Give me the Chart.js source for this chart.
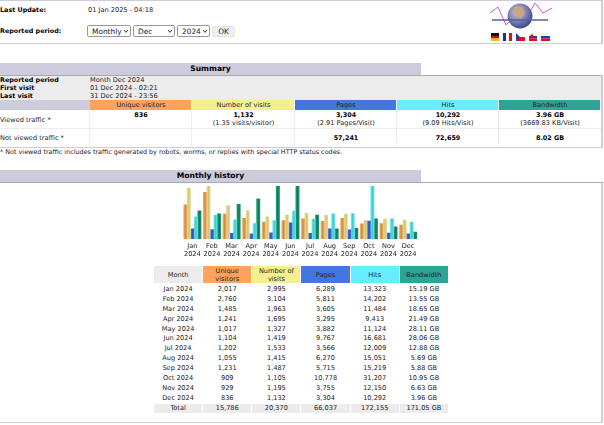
<!DOCTYPE html>
<html>
<head>
<meta charset="utf-8">
<script src="https://cdn.jsdelivr.net/npm/chart.js@4"></script>
<style>
html, body { margin: 0; padding: 0; background: #fff; width: 604px; height: 425px; overflow: hidden; }
body { font-family: "DejaVu Sans", Verdana, sans-serif; font-size: 6.6px; color: #222; position: relative; text-rendering: geometricPrecision; }
.abs { position: absolute; }
.line { position: absolute; background: #ccccdd; }
.band { position: absolute; background: #ccccdd; color: #000; font-weight: bold; font-size: 7.6px; text-align: center; }
.lbl { position: absolute; white-space: nowrap; line-height: 9px; }
.b { font-weight: bold; color: #000; font-size: 6.4px; }
.note { font-size: 6.43px; }
.cell { position: absolute; text-align: center; line-height: 9px; white-space: nowrap; }
select, button.ok { position: absolute; font-family: "DejaVu Sans", sans-serif; font-size: 7.4px; text-rendering: geometricPrecision; height: 12px; padding: 0 0 0 4px; margin: 0; box-sizing: border-box; background: #fff; border: 1px solid #999; border-radius: 2px; color: #222; }
select { appearance: none; -webkit-appearance: none; }
.arrow { position: absolute; width: 4px; height: 3px; }
button.ok { background: #efefef; border: 1px solid #e4e4e4; padding: 0; }
#hist { position: absolute; left: 181px; top: 183px; width: 238.4px; height: 78px; }
#months { position: absolute; left: 153px; top: 266px; width: 296px; border-collapse: separate; border-spacing: 1.2px 0; table-layout: fixed; font-size: 6.6px; }
#months td, #months th { text-align: center; padding: 0; height: 9.88px; line-height: 9.88px; font-weight: normal; white-space: nowrap; }
#months th { height: 17px; line-height: 8px; color: #222; border-bottom: 2px solid #fff; }
#months tr.total td { background: #ececec; }
</style>
</head>
<body>
<script>
const months = ["Jan", "Feb", "Mar", "Apr", "May", "Jun", "Jul", "Aug", "Sep", "Oct", "Nov", "Dec"];
const year = "2024";
const visitors = [2017, 2760, 1485, 1241, 1017, 1104, 1202, 1055, 1231, 909, 929, 836];
const visits = [2995, 3104, 1963, 1695, 1327, 1419, 1533, 1415, 1487, 1105, 1195, 1132];
const pages = [6289, 5811, 3605, 3295, 3882, 9767, 3566, 6270, 5715, 10778, 3755, 3304];
const hits = [13323, 14202, 11484, 9413, 11124, 16681, 12009, 15051, 15219, 31207, 12150, 10292];
const bandwidth = [15.19, 13.55, 18.65, 21.49, 28.11, 28.06, 12.88, 5.69, 5.88, 10.95, 6.63, 3.96];
const totals = ["Total", "15,786", "20,370", "66,037", "172,155", "171.05 GB"];
const headers = ["Month", "Unique<br>visitors", "Number of<br>visits", "Pages", "Hits", "Bandwidth"];
const headerColors = ["#ececec", "#ffa25c", "#f4f090", "#4477dd", "#66eeff", "#2ea495"];
const summaryHeads = ["Unique visitors", "Number of visits", "Pages", "Hits", "Bandwidth"];
const viewedMain = ["836", "1,132", "3,304", "10,292", "3.96 GB"];
const viewedSub = ["", "(1.35 visits/visitor)", "(2.91 Pages/Visit)", "(9.09 Hits/Visit)", "(3669.83 KB/Visit)"];
const notViewed = ["", "", "57,241", "72,659", "8.02 GB"];
const summaryEdges = [90, 192, 295, 397, 499, 601];

const fmt = n => n.toLocaleString("en-US");

function add(html) { document.body.insertAdjacentHTML("beforeend", html); }
function lbl(text, x, y, cls) { add(`<div class="lbl ${cls || ""}" style="left:${x}px;top:${y}px">${text}</div>`); }
function box(x, y, w, h, c) { add(`<div class="line" style="left:${x}px;top:${y}px;width:${w}px;height:${h}px;background:${c}"></div>`); }
function dropdown(text, x, w) {
    add(`<select style="left:${x}px;top:25px;width:${w}px"><option>${text}</option></select>
    <svg class="arrow" style="left:${x + w - 7}px;top:30px" viewBox="0 0 4 3"><path d="M0 0 L2 2.4 L4 0" fill="none" stroke="#222" stroke-width="0.9"/></svg>`);
}

// top box
box(0, 0, 603, 1, "#ccccdd"); box(0, 43, 603, 1, "#ccccdd"); box(601, 0, 2, 44, "#ccccdd");
lbl("Last Update:", 0, 6, "b");
lbl("01 Jan 2025 - 04:18", 88, 6);
lbl("Reported period:", 0, 27, "b");
dropdown("Monthly", 87, 44);
dropdown("Dec", 133, 42);
dropdown("2024", 177, 33);
add(`<button class="ok" style="left:212px;top:26px;width:23px;height:11px">OK</button>`);

// logo
add(`<svg class="abs" style="left:484px;top:0" width="70" height="44" viewBox="484 0 70 44">
<defs><radialGradient id="g" cx="0.4" cy="0.35" r="0.7"><stop offset="0" stop-color="#d8c8a8"/><stop offset="0.45" stop-color="#8c8ab8"/><stop offset="1" stop-color="#34408c"/></radialGradient></defs>
<polyline points="490,13 498,7 506,25 511,20" fill="none" stroke="#c860c0" stroke-width="1"/>
<polyline points="528,15 535,3 543,13 552,8" fill="none" stroke="#c860c0" stroke-width="1"/>
<circle cx="520" cy="16" r="12.5" fill="url(#g)"/>
<path d="M515 6 l7 1 l3 6 l-4 6 l-3 -3 l-4 -4z" fill="#c8a878"/>
<path d="M492 20 H548" stroke="#5060a8" stroke-width="1.3"/>
<rect x="491" y="33" width="8" height="3" fill="#111"/><rect x="491" y="36" width="8" height="2.5" fill="#d01010"/><rect x="491" y="38.5" width="8" height="2.5" fill="#f0c000"/>
<rect x="503" y="33" width="3" height="8" fill="#1030b0"/><rect x="506" y="33" width="3" height="8" fill="#fff"/><rect x="509" y="33" width="3" height="8" fill="#d81020"/>
<rect x="516" y="33" width="9" height="4" fill="#fff"/><rect x="516" y="37" width="9" height="4" fill="#d81020"/><path d="M516 33 l4 4 l-4 4z" fill="#1840a0"/>
<rect x="529" y="33" width="8" height="3" fill="#f4f4f4"/><rect x="529" y="36" width="8" height="2.5" fill="#2040b0"/><rect x="529" y="38.5" width="8" height="2.5" fill="#d81020"/><rect x="530.5" y="34.5" width="2.5" height="4" fill="#d81020"/>
<rect x="541" y="33" width="9" height="3" fill="#f4f4f4"/><rect x="541" y="36" width="9" height="2.5" fill="#2040b0"/><rect x="541" y="38.5" width="9" height="2.5" fill="#d81020"/>
</svg>`);

// summary
add(`<div class="band" style="left:0;top:63px;width:421px;height:12px;line-height:12px">Summary</div>`);
box(0, 75, 603, 1, "#a8a8b0"); box(0, 147, 603, 1, "#ccccdd"); box(601, 75, 2, 73, "#ccccdd");
box(0, 76, 601, 24, "#ececec"); box(0, 100, 90, 10, "#ccccdd");
lbl("Reported period", 0, 76, "b"); lbl("First visit", 0, 84, "b"); lbl("Last visit", 0, 92, "b");
lbl("Month Dec 2024", 90, 76); lbl("01 Dec 2024 - 02:21", 90, 84); lbl("31 Dec 2024 - 23:56", 90, 92);
lbl("Viewed traffic *", 0, 115.5); lbl("Not viewed traffic *", 0, 133.5);
box(0, 128, 601, 1, "#ececec");
summaryHeads.forEach((h, i) => {
    const x = summaryEdges[i], w = summaryEdges[i + 1] - x;
    box(x, 100, w - 0.6, 10, headerColors[i + 1]);
    box(x - 0.6, 110, 0.6, 36, "#ececec");
    add(`<div class="cell" style="left:${x}px;top:101px;width:${w}px">${h}</div>`);
    add(`<div class="cell b" style="left:${x}px;top:111px;width:${w}px">${viewedMain[i]}</div>`);
    add(`<div class="cell" style="left:${x}px;top:119px;width:${w}px">${viewedSub[i]}</div>`);
    add(`<div class="cell b" style="left:${x}px;top:133.5px;width:${w}px">${notViewed[i]}</div>`);
});
lbl("* Not viewed traffic includes traffic generated by robots, worms, or replies with special HTTP status codes.", 0, 148, "note");

// monthly history
add(`<div class="band" style="left:0;top:170px;width:421px;height:12px;line-height:12px">Monthly history</div>`);
box(0, 182, 603, 1, "#a8a8b0");
box(0, 422, 603, 1, "#ccccdd");
box(601, 183, 2, 240, "#ccccdd");
add(`<div id="hist"><canvas id="histChart"></canvas></div>`);

// table under the chart
let rows = "<colgroup>" + headers.map(() => "<col>").join("") + "</colgroup><tr>";
headers.forEach((h, i) => { rows += `<th style="background:${headerColors[i]}">${h}</th>`; });
rows += "</tr>";
months.forEach((m, i) => {
    rows += `<tr><td>${m} ${year}</td><td>${fmt(visitors[i])}</td><td>${fmt(visits[i])}</td><td>${fmt(pages[i])}</td><td>${fmt(hits[i])}</td><td>${bandwidth[i].toFixed(2)} GB</td></tr>`;
});
rows += `<tr class="total">` + totals.map(t => `<td>${t}</td>`).join("") + "</tr>";
add(`<table id="months">${rows}</table>`);

// bars are shaded left to right like the awstats images
const CAT_PCT = 0.9;
const BAR_PCT = 1.12;
const barShades = [
    ["#e8bc80", "#d48a34", "#e4b070"],
    ["#ebe0a4", "#d8c46e", "#e4d890"],
    ["#5c84e4", "#2654c8", "#4870d8"],
    ["#80e8ea", "#34d0d6", "#70e0e2"],
    ["#2c9a78", "#06805e", "#20906e"]
];
function shade(context, i) {
    const s = barShades[i];
    if (context.dataIndex === undefined || !context.chart.chartArea) return s[1];
    const x = context.chart.scales.x;
    const slot = x.width / months.length * CAT_PCT / barShades.length;
    const left = x.getPixelForValue(context.dataIndex) - slot * barShades.length / 2 + i * slot;
    const g = context.chart.ctx.createLinearGradient(left, 0, left + slot, 0);
    g.addColorStop(0, s[0]); g.addColorStop(0.5, s[1]); g.addColorStop(1, s[2]);
    return g;
}
const series = [
    { data: visitors, yAxisID: "yVisits" },
    { data: visits, yAxisID: "yVisits" },
    { data: pages, yAxisID: "yHits" },
    { data: hits, yAxisID: "yHits" },
    { data: bandwidth, yAxisID: "yBand" }
];
const hiddenAxis = { display: false, min: 0, beginAtZero: true };
// canvas text gets hinted wide at this size otherwise
const preciseText = { id: "preciseText", beforeDraw(chart) { chart.ctx.textRendering = "geometricPrecision"; } };
new Chart(document.getElementById("histChart"), {
    type: "bar",
    plugins: [preciseText],
    data: {
        labels: months.map(m => [m, year]),
        datasets: series.map((s, i) => ({
            data: s.data,
            yAxisID: s.yAxisID,
            backgroundColor: ctx => shade(ctx, i),
            borderWidth: 0,
            barPercentage: BAR_PCT,
            categoryPercentage: CAT_PCT
        }))
    },
    options: {
        responsive: true,
        maintainAspectRatio: false,
        animation: false,
        layout: { padding: { top: 3 } },
        plugins: { legend: { display: false }, tooltip: { enabled: false } },
        scales: {
            x: {
                grid: { display: false, drawTicks: false },
                border: { display: false },
                ticks: {
                    color: "#222",
                    font: { family: "'DejaVu Sans'", size: 6.6, lineHeight: 1.2 },
                    padding: 3,
                    maxRotation: 0,
                    autoSkip: false
                }
            },
            yVisits: { ...hiddenAxis, max: Math.max(...visits) },
            yHits: { ...hiddenAxis, max: Math.max(...hits) },
            yBand: { ...hiddenAxis, max: Math.max(...bandwidth) }
        }
    }
});
</script>
</body>
</html>
